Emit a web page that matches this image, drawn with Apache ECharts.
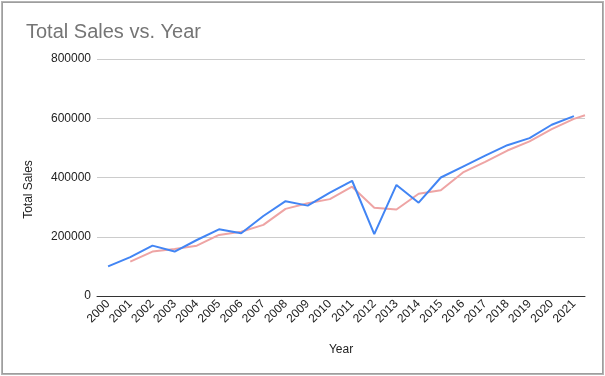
<!DOCTYPE html>
<html>
<head>
<meta charset="utf-8">
<script src="https://cdn.jsdelivr.net/npm/echarts@6/dist/echarts.min.js"></script>
<style>
  html, body { margin: 0; padding: 0; background: #fff; }
  #frame {
    position: absolute; left: 2px; top: 2px;
    width: 599px; height: 370px;
    border: 1px solid #9e9e9e;
    box-shadow: 0 0 0 1px #b5b5b5;
  }
  #chart { position: absolute; left: 0; top: 0; width: 605px; height: 376px; }
</style>
</head>
<body>
<div id="frame"></div>
<div id="chart"></div>
<script>
const years = ['2000', '2001', '2002', '2003', '2004', '2005', '2006', '2007', '2008', '2009', '2010',
  '2011', '2012', '2013', '2014', '2015', '2016', '2017', '2018', '2019', '2020', '2021'];

const totalSales = [100000, 131000, 170000, 150000, 189000, 225000, 212000, 270000, 320000, 305000, 349000,
  389000, 209000, 375000, 315000, 400000, 437000, 474000, 509000, 533000, 578000, 607000];

// moving average trendline for 2001..2021
const trendValues = [116000, 150000, 159000, 170000, 206000, 217000, 240000, 294000, 313000, 327000,
  369000, 298000, 292000, 345000, 357000, 417000, 453000, 491000, 522000, 563000, 598000];
const trendEnd = 610000; // where the trendline meets the right edge

const yTicks = { min: 0, max: 800000, interval: 200000 };

const chart = echarts.init(document.getElementById('chart'));

const trendData = trendValues.map((v, i) => [i + 1, v]);
trendData.push([years.length - 0.5, trendEnd]);

const textFont = '"Liberation Sans", Arial, sans-serif';

const option = {
  animation: false,
  title: {
    text: 'Total Sales vs. Year',
    left: 21,
    top: 17,
    textStyle: { fontFamily: textFont, fontSize: 20, fontWeight: 'normal', color: '#757575' }
  },
  grid: { left: 97, right: 20, top: 59, bottom: 80 },
  xAxis: [
    {
      type: 'category',
      data: years,
      boundaryGap: true,
      name: 'Year',
      nameLocation: 'middle',
      nameGap: 48,
      nameTextStyle: { fontFamily: textFont, fontSize: 12, color: '#222' },
      axisLine: { lineStyle: { color: '#333', width: 1 } },
      axisTick: { show: false },
      axisLabel: {
        rotate: 45,
        interval: 0,
        margin: 6,
        fontFamily: textFont,
        fontSize: 12,
        color: '#222'
      }
    },
    {
      type: 'value',
      min: -0.5,
      max: years.length - 0.5,
      show: false,
      splitLine: { show: false }
    }
  ],
  yAxis: {
    type: 'value',
    min: yTicks.min,
    max: yTicks.max,
    interval: yTicks.interval,
    name: 'Total Sales',
    nameLocation: 'middle',
    nameGap: 62,
    nameTextStyle: { fontFamily: textFont, fontSize: 12, color: '#222', padding: [0, 0, 0, -24] },
    axisLine: { show: false },
    axisTick: { show: false },
    axisLabel: {
      fontFamily: textFont, fontSize: 12, color: '#222', margin: 6,
      formatter: v => String(v)
    },
    splitLine: { lineStyle: { color: '#cccccc', width: 1 } }
  },
  series: [
    {
      name: 'Trend',
      type: 'line',
      xAxisIndex: 1,
      data: trendData,
      symbol: 'none',
      lineStyle: { color: '#eea4a4', width: 2 },
      z: 2
    },
    {
      name: 'Total Sales',
      type: 'line',
      data: totalSales,
      symbol: 'none',
      lineStyle: { color: '#4285f4', width: 2 },
      z: 3
    }
  ]
};

chart.setOption(option);
</script>
</body>
</html>
